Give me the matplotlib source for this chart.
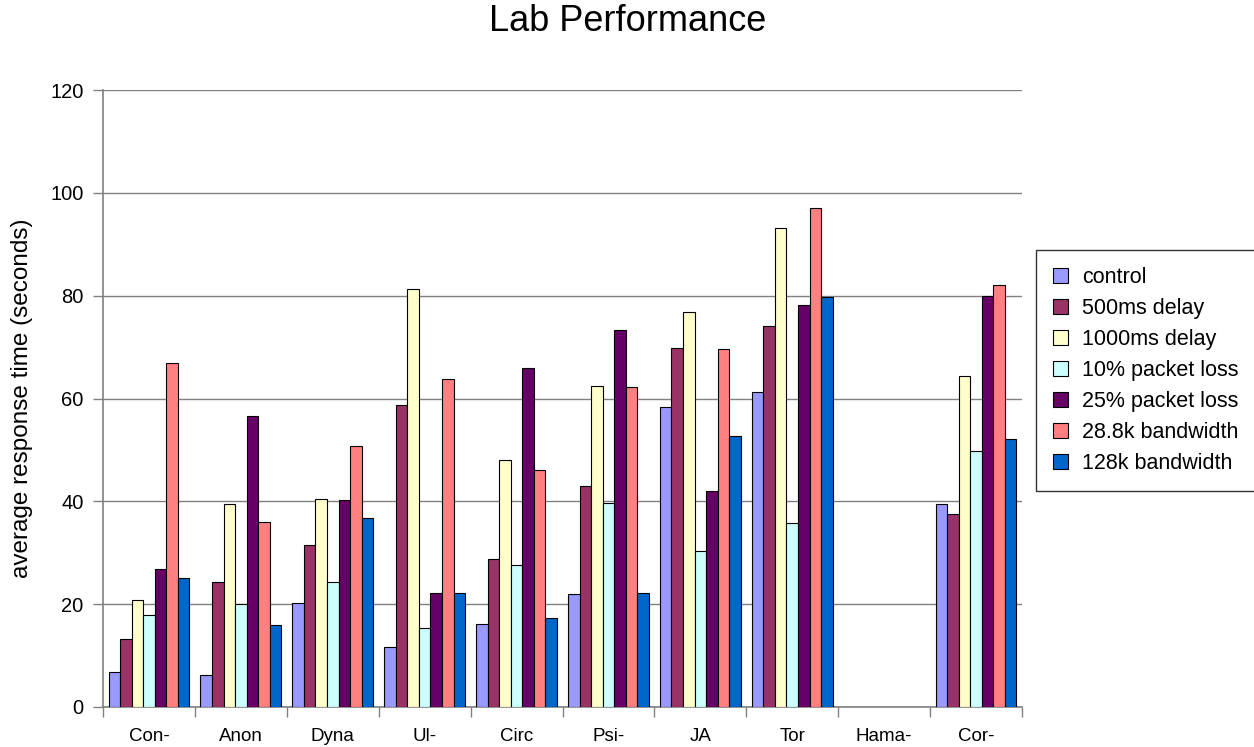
import matplotlib.pyplot as plt
import numpy as np

plt.rcParams['font.family'] = ['Liberation Sans', 'DejaVu Sans']

# categories and series
categories = ['Con-', 'Anon', 'Dyna', 'Ul-', 'Circ', 'Psi-', 'JA', 'Tor', 'Hama-', 'Cor-']
series_names = ['control', '500ms delay', '1000ms delay', '10% packet loss',
                '25% packet loss', '28.8k bandwidth', '128k bandwidth']
control = [6.8, 6.3, 20.3, 11.6, 16.2, 21.9, 58.4, 61.3, 0, 39.4]
delay_500 = [13.2, 24.4, 31.5, 58.8, 28.7, 42.9, 69.8, 74.1, 0, 37.5]
delay_1000 = [20.8, 39.4, 40.4, 81.3, 48.1, 62.5, 76.8, 93.1, 0, 64.4]
loss_10 = [17.8, 20.0, 24.3, 15.4, 27.6, 39.7, 30.4, 35.7, 0, 49.8]
loss_25 = [26.8, 56.6, 40.2, 22.2, 66.0, 73.4, 42.1, 78.1, 0, 80.0]
bw_288 = [67.0, 36.0, 50.7, 63.7, 46.0, 62.3, 69.6, 97.0, 0, 82.0]
bw_128 = [25.0, 16.0, 36.7, 22.1, 17.3, 22.1, 52.7, 79.7, 0, 52.2]
series = [control, delay_500, delay_1000, loss_10, loss_25, bw_288, bw_128]
colors = ['#9999FF', '#993366', '#FFFFCC', '#CCFFFF', '#660066', '#FF8080', '#0066CC']

fig = plt.figure(figsize=(12.54, 7.47), dpi=100)
ax = fig.add_axes([103 / 1254, 40 / 747, 919 / 1254, 617 / 747])

x = np.arange(len(categories))
width = 0.88 / len(series)
for i, (vals, name, col) in enumerate(zip(series, series_names, colors)):
    offset = (i - (len(series) - 1) / 2) * width
    ax.bar(x + offset, vals, width, color=col, edgecolor='black',
           linewidth=0.8, label=name, zorder=3)

ax.set_xlim(-0.5, len(categories) - 0.5)
ax.set_ylim(0, 120)
ax.set_yticks(range(0, 121, 20))
ax.yaxis.grid(True, color='#808080', linewidth=1.0, zorder=0)

# ticks between categories, labels centered
ax.set_xticks(np.arange(-0.5, len(categories), 1.0))
ax.set_xticklabels([])
ax.set_xticks(x, minor=True)
ax.set_xticklabels(categories, minor=True)
ax.tick_params(axis='x', which='minor', length=0, pad=15, labelsize=13.5)
ax.tick_params(axis='x', which='major', length=7, color='#808080', width=1)
ax.tick_params(axis='y', length=7, color='#808080', width=1, labelsize=14.5, pad=7)

for s in ['top', 'right']:
    ax.spines[s].set_visible(False)
for s in ['left', 'bottom']:
    ax.spines[s].set_color('#808080')
    ax.spines[s].set_linewidth(1.2)

ax.set_ylabel('average response time (seconds)', fontsize=17.5)
ax.yaxis.set_label_coords(-0.076, 0.5)
fig.text(628 / 1254, 1 - 31 / 747, 'Lab Performance', ha='center', va='baseline', fontsize=26)

leg = ax.legend(loc='upper left', bbox_to_anchor=(1036 / 1254, 1 - 250 / 747),
                bbox_transform=fig.transFigure, fontsize=15.5, frameon=True,
                fancybox=False, edgecolor='black', handlelength=0.7,
                handleheight=0.7, handletextpad=0.65, labelspacing=0.47,
                borderpad=0.78, borderaxespad=0)
leg.get_frame().set_linewidth(1.0)

fig.savefig('out.png', dpi=100)
